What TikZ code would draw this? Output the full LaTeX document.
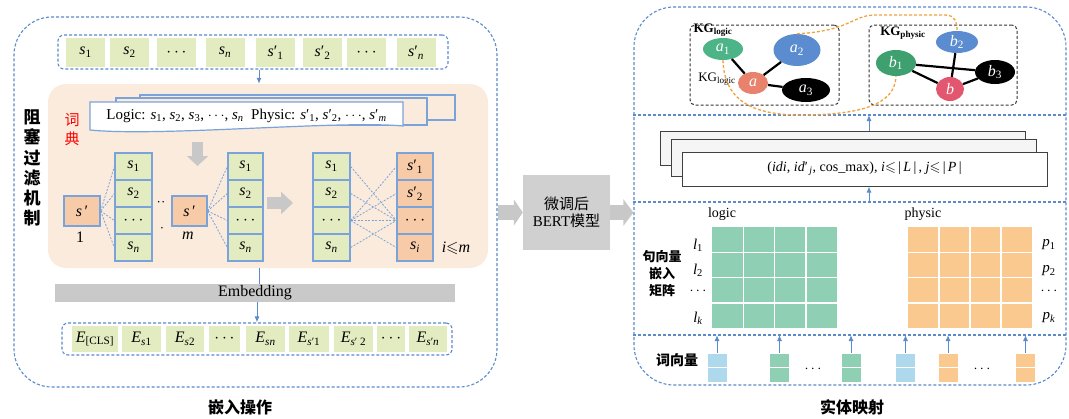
\documentclass[tikz,border=0pt]{standalone}
\usepackage{fontspec}
\usepackage{amssymb}
\setmainfont{Liberation Serif}
\newfontfamily\cjk{Noto Sans CJK SC}
\usetikzlibrary{arrows.meta,shapes.geometric,calc}
\definecolor{dblue}{HTML}{5B8BC9}
\definecolor{cblue}{HTML}{7AA3DA}
\definecolor{ygreen}{HTML}{E3EBC1}
\definecolor{peachbg}{HTML}{FBEBDD}
\definecolor{peachc}{HTML}{F8CBA8}
\definecolor{barg}{HTML}{C9C9C9}
\definecolor{arrg}{HTML}{C8C8C8}
\definecolor{bertg}{HTML}{D0D0D0}
\definecolor{mint}{HTML}{8FD0B5}
\definecolor{orng}{HTML}{F9C990}
\definecolor{lblue}{HTML}{AED9EC}
\definecolor{kgreen}{HTML}{4DB487}
\definecolor{kblue}{HTML}{5A8CCF}
\definecolor{ksalmon}{HTML}{E8826C}
\definecolor{kpink}{HTML}{E2566F}
\definecolor{kgreentwo}{HTML}{3E9F6F}
\definecolor{odash}{HTML}{F2A23C}
\newcommand{\Sv}[1]{\textit{s}\textsubscript{#1}}
\newcommand{\Sp}[1]{\textit{s}′\textsubscript{#1}}
\newcommand{\fs}[1]{\fontsize{#1}{#1}\selectfont}
\begin{document}
\begin{tikzpicture}[x=1pt,y=-1pt,
  bdash/.style={draw=dblue,dash pattern=on 3pt off 2pt,line width=1.1pt},
  tcell/.style={fill=ygreen,minimum width=39pt,minimum height=29pt,inner sep=0pt,font=\fs{16}},
  ecell/.style={fill=ygreen,minimum height=26pt,inner sep=0pt,font=\fs{16}},
  gcell/.style={fill=ygreen,draw=cblue,line width=1.3pt,minimum width=37pt,minimum height=27pt,inner sep=0pt,font=\fs{16}},
  pcell/.style={fill=peachc,draw=cblue,line width=1.3pt,minimum width=37pt,minimum height=27pt,inner sep=0pt,font=\fs{16}},
  fan/.style={draw=cblue,dash pattern=on 2pt off 1.5pt,line width=0.8pt},
  barrow/.style={draw=dblue,line width=1pt,-{Latex[length=6pt,width=5pt]}},
  garrow/.style={draw=arrg,line width=#1},
  kbox/.style={draw=black!80,dash pattern=on 3pt off 2pt,line width=1pt,rounded corners=5pt},
  kn/.style={ellipse,inner sep=0pt,text=white,font=\fs{16}\itshape},
  kedge/.style={line width=2.2pt,black},
  ocurve/.style={draw=odash,dash pattern=on 3pt off 2pt,line width=1.3pt},
  stk/.style={draw=black!75,fill=black!4,line width=1pt,minimum width=365pt,inner sep=0pt},
  wv/.style={minimum width=20pt,minimum height=14.5pt,inner sep=0pt,draw=white,line width=1pt},
  lab/.style={font=\fs{14}},
]
\useasboundingbox (0,0) rectangle (1069,418);

% ---------------- left panel ----------------
\node[bdash,rounded corners=38pt,minimum width=483pt,minimum height=370pt] (L) at (255.5,202) {};
\node[bdash,rounded corners=6pt,minimum width=390pt,minimum height=34pt] (topbox) at (253,52) {};
\node[tcell] (t1) at (85.5,52.5) {\Sv{1}};
\node[tcell] (t2) at (129.5,52.5) {\Sv{2}};
\node[tcell] (t3) at (176.5,52.5) {$\cdots$};
\node[tcell] (t4) at (225,52.5) {\Sv{\textit{n}}};
\node[tcell] (t5) at (275.5,52.5) {\Sp{1}};
\node[tcell] (t6) at (322.5,52.5) {\Sp{2}};
\node[tcell] (t7) at (366.5,52.5) {$\cdots$};
\node[tcell] (t8) at (416,52.5) {\Sp{\textit{n}}};

\node[fill=peachbg,rounded corners=18pt,minimum width=440pt,minimum height=184pt] (dict) at (268,176) {};
\draw[barrow] ($(topbox.south)+(6,0)$) -- ($(dict.north)+(-9,0)$);

% stacked dictionary boxes
\node[draw=cblue,fill=peachbg,line width=1.2pt,minimum width=315pt,minimum height=25pt] (lb3) at (297.5,107.5) {};
\node[draw=cblue,fill=peachbg,line width=1.2pt,minimum width=311pt,minimum height=27pt] (lb2) at (271.5,111.5) {};
\draw[cblue,fill=white,line width=1.2pt] (90,102) -- (403,102) -- (403,126) .. controls (340,120) and (160,137) .. (90,130) -- cycle;
\node[font=\fs{15}] (lbt) at (246.5,115.5) {Logic: \Sv{1}, \Sv{2}, \Sv{3}, $\cdots$, \Sv{\textit{n}}\ \ Physic: \Sp{1}, \Sp{2}, $\cdots$, \Sp{\textit{m}}};

\node[font=\cjk\fs{15},text=red,align=center] (cd) at (72,130) {词\\[4pt]典};
\node[font=\cjk\bfseries\fs{17},align=center,inner sep=0pt] (zs) at (32,168) {阻\\[3.2pt]塞\\[3.2pt]过\\[3.2pt]滤\\[3.2pt]机\\[3.2pt]制};

% gray down arrow
\coordinate (da1) at (197.5,142);
\coordinate (da2) at (197.5,166);
\draw[garrow=11pt,-{Triangle[length=10pt,width=21pt]}] (da1) -- (da2);

% column 1
\node[pcell,minimum width=36pt,minimum height=30pt] (sp1) at (82,211) {\textit{s}\,′};
\node[font=\fs{16}] (one) at (80,237) {1};
\node[gcell] (c1a) at (133.5,166.5) {\Sv{1}};
\node[gcell] (c1b) at (133.5,193.5) {\Sv{2}};
\node[gcell] (c1c) at (133.5,220.5) {$\cdots$};
\node[gcell] (c1d) at (133.5,247.5) {\Sv{\textit{n}}};
\foreach \c in {c1a,c1b,c1c,c1d} \draw[fan] (sp1.east) -- (\c.west);

\node[font=\fs{13}] (dd1) at (161,204) {··};
\node[font=\fs{13}] (dd2) at (162,230) {·};

% column 2
\node[pcell,minimum width=35pt,minimum height=30pt] (sp2) at (189.5,211) {\textit{s}\,′};
\node[font=\fs{16}\itshape] (mm) at (188,236) {m};
\node[gcell,minimum width=35pt] (c2a) at (245.5,166.5) {\Sv{1}};
\node[gcell,minimum width=35pt] (c2b) at (245.5,193.5) {\Sv{2}};
\node[gcell,minimum width=35pt] (c2c) at (245.5,220.5) {$\cdots$};
\node[gcell,minimum width=35pt] (c2d) at (245.5,247.5) {\Sv{\textit{n}}};
\foreach \c in {c2a,c2b,c2c,c2d} \draw[fan] (sp2.east) -- (\c.west);

% gray right arrow
\coordinate (ra1) at (267,203);
\coordinate (ra2) at (293,203);
\draw[garrow=12pt,-{Triangle[length=12pt,width=22pt]}] (ra1) -- (ra2);

% columns 3 and 4
\node[gcell] (c3a) at (331.5,166.5) {\Sv{1}};
\node[gcell] (c3b) at (331.5,193.5) {\Sv{2}};
\node[gcell] (c3c) at (331.5,220.5) {$\cdots$};
\node[gcell] (c3d) at (331.5,247.5) {\Sv{\textit{n}}};
\node[pcell,minimum width=36pt] (c4a) at (415,166.5) {\Sp{1}};
\node[pcell,minimum width=36pt] (c4b) at (415,193.5) {\Sp{2}};
\node[pcell,minimum width=36pt] (c4c) at (415,220.5) {$\cdots$};
\node[pcell,minimum width=36pt] (c4d) at (415,247.5) {\Sv{\textit{i}}};
\foreach \c in {c3a,c3b,c3d} \draw[fan] (\c.east) -- (c4c.west);
\foreach \c in {c4a,c4b,c4c,c4d} \draw[fan] (c3c.east) -- (\c.west);
\node[font=\fs{16}] (ilm) at (456,248) {\textit{i}$\leqslant$\textit{m}};

% embedding
\node[fill=barg,minimum width=400pt,minimum height=18pt,inner sep=0pt,font=\fs{16}] (embbar) at (255,293) {Embedding};
\draw[dblue,line width=1pt] ($(dict.south)+(-9,0)$) -- ($(embbar.north)+(4,0)$);
\node[bdash,rounded corners=6pt,minimum width=390pt,minimum height=32pt] (embrow) at (257,339) {};
\draw[barrow] ($(embbar.south)+(2,0)$) -- (embrow.north);
\node[ecell,minimum width=46pt] (e1) at (95,339) {\textit{E}\textsubscript{[CLS]}};
\node[ecell,minimum width=39pt] (e2) at (141.5,339) {\textit{E}\textsubscript{\textit{s}1}};
\node[ecell,minimum width=38pt] (e3) at (185,339) {\textit{E}\textsubscript{\textit{s}2}};
\node[ecell,minimum width=31pt] (e4) at (224.5,339) {$\cdots$};
\node[ecell,minimum width=39pt] (e5) at (265.5,339) {\textit{E}\textsubscript{\textit{sn}}};
\node[ecell,minimum width=40pt] (e6) at (309,339) {\textit{E}\textsubscript{\textit{s}′1}};
\node[ecell,minimum width=39pt] (e7) at (353.5,339) {\textit{E}\textsubscript{\textit{s}′ 2}};
\node[ecell,minimum width=28pt] (e8) at (391,339) {$\cdots$};
\node[ecell,minimum width=38pt] (e9) at (428,339) {\textit{E}\textsubscript{\textit{s}′\textit{n}}};

\node[font=\cjk\bfseries\fs{16}] (capL) at (240,407) {嵌入操作};

% ---------------- middle ----------------
\node[fill=bertg,minimum width=87pt,minimum height=75pt,align=center,font=\fs{15}] (bert) at (566.5,212.5) {{\cjk 微调后}\\[2pt]BERT{\cjk 模型}};
\draw[garrow=15pt,-{Triangle[length=9pt,width=26pt]}] (L.east |- bert.west) -- (bert.west);

% ---------------- right panel ----------------
\node[bdash,rounded corners=40pt,minimum width=432pt,minimum height=378pt] (R) at (850,196) {};
\draw[garrow=15pt,-{Triangle[length=10pt,width=26pt]}] (bert.east) -- (R.west |- bert.east);
\coordinate (sep1) at (869,115);
\coordinate (sep2) at (869,202);
\coordinate (sep3) at (869,335);
\draw[bdash] (R.west |- sep1) -- (R.east |- sep1);
\draw[bdash] (R.west |- sep2) -- (R.east |- sep2);
\draw[bdash] (R.west |- sep3) -- (R.east |- sep3);

% KG boxes
\node[kbox,minimum width=149pt,minimum height=80pt] (kgl) at (764.5,65) {};
\node[kbox,minimum width=148pt,minimum height=80pt] (kgp) at (943,65) {};
\node[font=\fs{13}\bfseries,inner sep=0pt] (kgll) at (713,30.5) {KG\textsubscript{logic}};
\node[font=\fs{13}\bfseries,inner sep=0pt] (kgpl) at (903,33) {KG\textsubscript{physic}};
\node[font=\fs{13},inner sep=0pt] (kgl2) at (717,79) {KG\textsubscript{logic}};

\node[kn,fill=kgreen,minimum width=40pt,minimum height=22pt] (a1) at (723,49) {a\textsubscript{\upshape 1}};
\node[kn,fill=kblue,minimum width=47pt,minimum height=32pt] (a2) at (797,50) {a\textsubscript{\upshape 2}};
\node[kn,fill=ksalmon,minimum width=30pt,minimum height=22pt] (a) at (753,83) {a};
\node[kn,fill=black,minimum width=48pt,minimum height=24pt] (a3) at (806,90) {a\textsubscript{\upshape 3}};
\draw[kedge] (a1) -- (a);
\draw[kedge] (a) -- (a2);
\draw[kedge] (a) -- (a3);

\node[kn,fill=kblue,minimum width=42pt,minimum height=22pt] (b2) at (957,42) {b\textsubscript{\upshape 2}};
\node[kn,fill=kgreentwo,minimum width=40pt,minimum height=26pt] (b1) at (896,63) {b\textsubscript{\upshape 1}};
\node[kn,fill=black,minimum width=40pt,minimum height=24pt] (b3) at (995,72) {b\textsubscript{\upshape 3}};
\node[kn,fill=kpink,minimum width=28pt,minimum height=24pt] (b) at (950,89) {b};
\draw[kedge] (b1) -- (b);
\draw[kedge] (b1) -- (b3);
\draw[kedge] (b2) -- (b);
\draw[kedge] (b) -- (b3);

\draw[ocurve] (a2.north) .. controls (850,31) and (853,15) .. (875,15) -- (945,15) .. controls (955,15) and (957,22) .. (b2.north);
\draw[ocurve] (a1.south) .. controls (724,95) and (745,115) .. (800,115) .. controls (860,115) and (895,105) .. (b1.south);

% stacked result boxes
\node[stk,minimum height=34pt] (st1) at (842.5,148) {};
\node[stk,minimum height=37pt] (st2) at (853.5,157.5) {};
\node[stk,fill=white,minimum height=34pt,font=\fs{14}] (st3) at (864.5,169) {(\textit{idi}, \textit{id}′\textsubscript{\,\textit{j}}, cos\_max), \textit{i}$\leqslant$\,|\,\textit{L}\,|\,, \textit{j}$\leqslant$\,|\,\textit{P}\,|};
\draw[barrow] (st1.north -| sep1) -- (sep1);
\draw[barrow] (sep2) -- (st3.south -| sep2);

% matrices
\node[lab] (lgl) at (722,214) {logic};
\node[lab] (phl) at (923,214) {physic};
\node[fill=mint,minimum width=125pt,minimum height=101pt,inner sep=0pt] (gm) at (774.5,277.5) {};
\node[fill=orng,minimum width=124pt,minimum height=101pt,inner sep=0pt] (om) at (970,277.5) {};
\foreach \x in {743.25,774.5,805.75} \draw[white,line width=1.5pt] (\x,227) -- (\x,328);
\foreach \x in {939,970,1001} \draw[white,line width=1.5pt] (\x,227) -- (\x,328);
\foreach \y in {252.25,277.5,302.75} {\draw[white,line width=1.5pt] (712,\y) -- (837,\y); \draw[white,line width=1.5pt] (908,\y) -- (1032,\y);}

\node[font=\fs{15}] (l1) at (698,245) {\textit{l}\textsubscript{1}};
\node[font=\fs{15}] (l2) at (698,270) {\textit{l}\textsubscript{2}};
\node[font=\fs{15}\bfseries] (l3) at (698,291) {$\cdots$};
\node[font=\fs{15}] (l4) at (698,318) {\textit{l}\textsubscript{\textit{k}}};
\node[font=\fs{15}] (p1) at (1049,245) {\textit{p}\textsubscript{1}};
\node[font=\fs{15}] (p2) at (1049,271) {\textit{p}\textsubscript{2}};
\node[font=\fs{15}\bfseries] (p3) at (1049,291) {$\cdots$};
\node[font=\fs{15}] (p4) at (1049,318) {\textit{p}\textsubscript{\textit{k}}};
\node[font=\cjk\bfseries\fs{13},align=center,inner sep=0pt] (jxl) at (662,274) {句向量\\[4pt]嵌入\\[4pt]矩阵};

% word vectors
\node[font=\cjk\bfseries\fs{14}] (cxl) at (677,360) {词向量};
\foreach \n/\x/\c in {w1/717/lblue,w2/779.5/mint,w3/851/mint,w4/905.5/lblue,w5/948/orng,w6/1025.5/orng} {
  \node[wv,fill=\c] (\n a) at (\x,360.25) {};
  \node[wv,fill=\c] (\n b) at (\x,374.75) {};
  \draw[barrow] (\n a.north) -- (\n a.north |- sep3);
}
\node[font=\fs{15}\bfseries] (wd1) at (813,369) {$\cdots$};
\node[font=\fs{15}\bfseries] (wd2) at (982,369) {$\cdots$};

\node[font=\cjk\bfseries\fs{16}] (capR) at (852,407) {实体映射};
\end{tikzpicture}
\end{document}
